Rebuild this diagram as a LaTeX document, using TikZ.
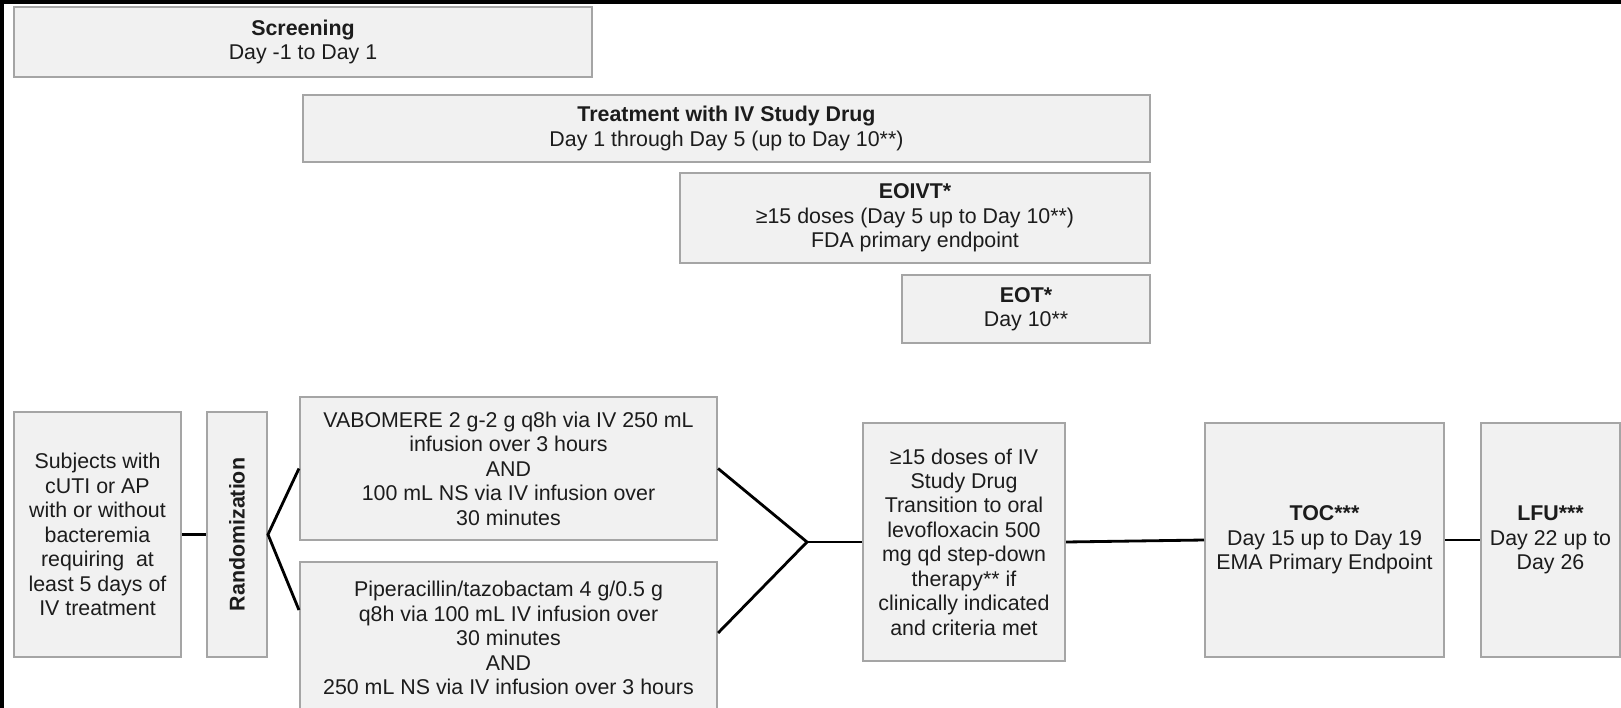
\documentclass[tikz,border=0pt]{standalone}
\usepackage{fontspec}
\setmainfont{Liberation Sans}
\definecolor{boxfill}{RGB}{241,241,241}
\definecolor{boxline}{RGB}{165,165,165}
\definecolor{txt}{RGB}{28,28,28}

\begin{document}
\begin{tikzpicture}[x=0.025cm,y=-0.025cm]
                \tikzset{box/.style={draw=boxline, fill=boxfill, line width=1.4pt, text=txt, align=center,
                inner sep=0pt, font=\fontsize{15.2}{17.4}\selectfont},
                link/.style={line width=2pt, draw=black}}

                \useasboundingbox (0,0) rectangle (1621,708);
                \fill[black] (0,0) rectangle (1621,708);
                \fill[white] (4,4) rectangle (1621,708);

                \node[box, minimum width=14.45cm, minimum height=1.75cm] (scr) at (303,42) {{\bfseries Screening}\\Day -1 to Day 1};
                \node[box, minimum width=21.175cm, minimum height=1.675cm] (trt) at (726.5,128.5) {{\bfseries Treatment with IV Study Drug}\\Day 1 through Day 5 (up to Day 10**)};
                \node[box, minimum width=11.75cm, minimum height=2.25cm] (eoivt) at (915,218) {{\bfseries EOIVT*}\\≥15 doses (Day 5 up to Day 10**)\\FDA primary endpoint};
                \node[box, minimum width=6.2cm, minimum height=1.7cm] (eot) at (1026,309) {{\bfseries EOT*}\\Day 10**};

                \node[box, minimum width=4.175cm, minimum height=6.125cm] (subj) at (97.5,534.5) {Subjects with\\cUTI or AP\\with or without\\bacteremia\\requiring~ at\\least 5 days of\\IV treatment};
                \node[box, minimum width=1.5cm, minimum height=6.125cm] (rand) at (237,534.5) {};
                \node[rotate=90, text=txt, font=\fontsize{15.2}{17.4}\selectfont\bfseries] (randlbl) at (rand) {Randomization};
                \node[box, minimum width=10.425cm, minimum height=3.575cm] (vab) at (508.5,468.5) {VABOMERE 2 g-2 g q8h via IV 250 mL\\infusion over 3 hours\\AND\\100 mL NS via IV infusion over\\30 minutes};
                \node[box, minimum width=10.425cm, minimum height=3.8cm] (pip) at (508.5,638) {Piperacillin/tazobactam 4 g/0.5 g\\q8h via 100 mL IV infusion over\\30 minutes\\AND\\250 mL NS via IV infusion over 3 hours};
                \node[box, minimum width=5.05cm, minimum height=5.95cm] (dose) at (964,542) {≥15 doses of IV\\Study Drug\\Transition to oral\\levofloxacin 500\\mg qd step-down\\therapy** if\\clinically indicated\\and criteria met};
                \node[box, minimum width=5.975cm, minimum height=5.85cm] (toc) at (1324.5,540) {{\bfseries TOC***}\\Day 15 up to Day 19\\EMA Primary Endpoint};
                \node[box, minimum width=3.475cm, minimum height=5.85cm] (lfu) at (1550.5,540) {{\bfseries LFU***}\\Day 22 up to\\Day 26};

                \coordinate (merge) at (807,542);
                \draw[link] (subj.east) -- (rand.west);
                \draw[link] (vab.west) -- (rand.east) -- ([yshift=0.7cm]pip.west);
                \draw[link] (vab.east) -- (merge) -- ([yshift=0.125cm]pip.east);
                \draw[link] (merge) -- (dose.west);
                \draw[link] (dose.east) -- (toc.west);
                \draw[link] (toc.east) -- (lfu.west);
\end{tikzpicture}
\end{document}
